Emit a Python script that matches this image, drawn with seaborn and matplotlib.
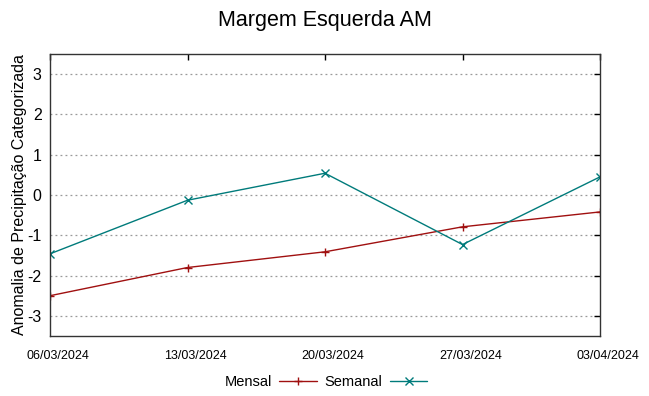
import matplotlib
matplotlib.use("Agg")
import matplotlib.pyplot as plt
import matplotlib.transforms as mtransforms
import seaborn as sns
import pandas as pd

dates = ["06/03/2024", "13/03/2024", "20/03/2024", "27/03/2024", "03/04/2024"]
mensal = [-2.5, -1.80, -1.41, -0.79, -0.42]
semanal = [-1.46, -0.13, 0.54, -1.23, 0.45]
yticks = [-3, -2, -1, 0, 1, 2, 3]
colors = {"Mensal": "#a01010", "Semanal": "#007b7b"}

sns.set_style("white")
plt.rcParams['font.family'] = ['Liberation Sans', 'DejaVu Sans']
plt.rcParams['text.color'] = 'black'
plt.rcParams['xtick.color'] = 'black'
plt.rcParams['ytick.color'] = 'black'
plt.rcParams['axes.labelcolor'] = 'black'

df = pd.DataFrame({
    "pos": list(range(len(dates))) * 2,
    "valor": mensal + semanal,
    "serie": ["Mensal"] * len(dates) + ["Semanal"] * len(dates),
})

fig = plt.figure(figsize=(6.49, 3.96), dpi=100)
ax = fig.add_axes([50/649, 60/396, 550/649, 282/396])

sns.lineplot(data=df, x="pos", y="valor", hue="serie", style="serie",
             palette=colors,
             markers={"Mensal": "+", "Semanal": "x"}, dashes=False,
             linewidth=1.0, markersize=5.5, ax=ax)
for line in ax.lines:
    line.set_markeredgecolor(line.get_color())
    line.set_markeredgewidth(1.0)

ax.set_xlim(0, len(dates) - 1)
ax.set_ylim(-3.5, 3.5)
ax.set_xticks(range(len(dates)))
ax.set_xticklabels(dates, fontsize=9)
ax.set_yticks(yticks)
ax.set_yticklabels([str(v) for v in yticks], fontsize=11.5)
ax.set_xlabel("")
ax.set_ylabel("Anomalia de Precipitação Categorizada", fontsize=11.5, labelpad=0)
ax.yaxis.grid(True, linestyle=(0, (1.5, 2.5)), color="#999999", linewidth=0.9)
ax.xaxis.grid(False)
ax.tick_params(axis="both", direction="in", length=4, width=1, top=True, right=True,
               color="black", pad=6)
ax.tick_params(axis="x", pad=10)
for s in ax.spines.values():
    s.set_color("#333333")
    s.set_linewidth(1.0)

offset = mtransforms.ScaledTranslation(8/100, 0, fig.dpi_scale_trans)
for lbl in ax.get_xticklabels():
    lbl.set_transform(lbl.get_transform() + offset)

fig.suptitle("Margem Esquerda AM", fontsize=15.5, y=0.975)

handles, labels = ax.get_legend_handles_labels()
for h in handles:
    h.set_markeredgecolor(h.get_color())
leg = ax.legend(handles, labels, loc="center", bbox_to_anchor=(326/649, 1 - 382/396),
                bbox_transform=fig.transFigure, ncol=2, frameon=False,
                markerfirst=False, fontsize=10.5, handlelength=2.6,
                columnspacing=0.5, handletextpad=0.5)

fig.savefig("out.png", dpi=100)
